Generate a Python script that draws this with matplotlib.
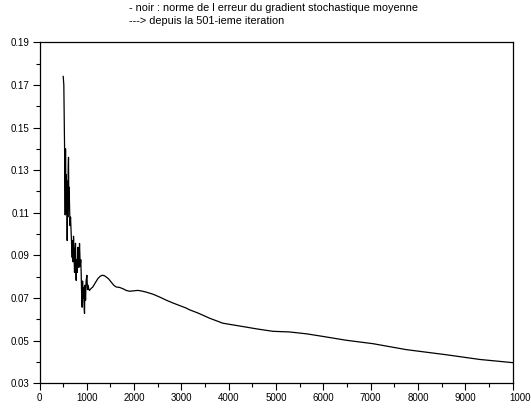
import numpy as np
import matplotlib.pyplot as plt
import matplotlib.transforms as mtransforms
from matplotlib.ticker import FixedLocator, MultipleLocator

plt.rcParams['font.family'] = ['Liberation Sans', 'DejaVu Sans']

# mean stochastic gradient error norm
iters = [501, 514, 530, 543, 550, 557, 564, 571, 578, 585, 592, 599, 606,
         613, 620, 627, 634, 645, 656, 670, 680, 691, 700, 710, 719, 730,
         740, 750, 761, 768, 775, 785, 795, 810, 820, 832, 840, 846, 860,
         872, 881, 890, 902, 910, 920, 930, 940, 951, 960, 973, 985, 1001,
         1015, 1029, 1043, 1057, 1090, 1127, 1180, 1233, 1280, 1325, 1370,
         1410, 1460, 1515, 1570, 1621, 1690, 1762, 1830, 1903, 1990, 2079,
         2160, 2255, 2400, 2537, 2680, 2819, 2960, 3100, 3171, 3347, 3600,
         3875, 4200, 4600, 4933, 5285, 5650, 5990, 6483, 7047, 7752, 8598,
         9302, 10000]
err = [0.174, 0.170, 0.140, 0.109, 0.140, 0.115, 0.128, 0.110, 0.125,
       0.097, 0.118, 0.108, 0.130, 0.136, 0.112, 0.122, 0.114, 0.104,
       0.108, 0.100, 0.094, 0.089, 0.097, 0.087, 0.099, 0.090, 0.082,
       0.092, 0.0957, 0.084, 0.0783, 0.088, 0.082, 0.0938, 0.086, 0.0844,
       0.092, 0.0956, 0.085, 0.088, 0.0816, 0.072, 0.0657, 0.078, 0.070,
       0.075, 0.068, 0.0628, 0.076, 0.069, 0.078, 0.0807, 0.074, 0.0760,
       0.0740, 0.0736, 0.0745, 0.0752, 0.0772, 0.0791, 0.0802, 0.0807,
       0.0805, 0.0799, 0.0790, 0.0775, 0.0760, 0.0752, 0.0750, 0.0744,
       0.0736, 0.0732, 0.0734, 0.0736, 0.0733, 0.0728, 0.0718, 0.0705,
       0.0690, 0.0677, 0.0665, 0.0653, 0.0645, 0.0630, 0.0605, 0.0582,
       0.0570, 0.0555, 0.0544, 0.0541, 0.0532, 0.0520, 0.0502, 0.0486,
       0.0458, 0.0434, 0.0412, 0.0397]

xticks = [0, 1000, 2000, 3000, 4000, 5000, 6000, 7000, 8000, 9000, 10000]
yticks = [0.03, 0.05, 0.07, 0.09, 0.11, 0.13, 0.15, 0.17, 0.19]
yminor = [0.04, 0.06, 0.08, 0.10, 0.12, 0.14, 0.16, 0.18]

fig = plt.figure(figsize=(5.31, 4.08), dpi=100)
ax = fig.add_axes([0.0744, 0.0605, 0.8911, 0.8358])
ax.plot(iters, err, color='black', lw=0.9)

ax.set_xlim(0, 10000)
ax.set_ylim(0.03, 0.19)
ax.set_xticks(xticks)
ax.set_xticklabels([str(v) for v in xticks])
ax.xaxis.set_minor_locator(MultipleLocator(500))
ax.set_yticks(yticks)
ax.set_yticklabels(['%.2f' % v for v in yticks])
ax.yaxis.set_minor_locator(FixedLocator(yminor))
ax.tick_params(which='both', direction='out', labelsize=7, width=0.8,
               top=False, right=False, pad=2)
ax.tick_params(which='major', length=5)
ax.tick_params(which='minor', length=3)
for s in ax.spines.values():
    s.set_linewidth(0.9)

# last x label sits to the right of its tick and runs off the figure
last = ax.get_xticklabels()[-1]
last.set_horizontalalignment('left')
last.set_transform(last.get_transform() +
                   mtransforms.ScaledTranslation(-3 / 100, 0, fig.dpi_scale_trans))

fig.text(0.243, 0.980, "- noir : norme de l erreur du gradient stochastique moyenne",
         fontsize=7.8, va='center', ha='left')
fig.text(0.243, 0.9485, "---> depuis la 501-ieme iteration",
         fontsize=7.8, va='center', ha='left')

fig.savefig('out.png', dpi=100)
